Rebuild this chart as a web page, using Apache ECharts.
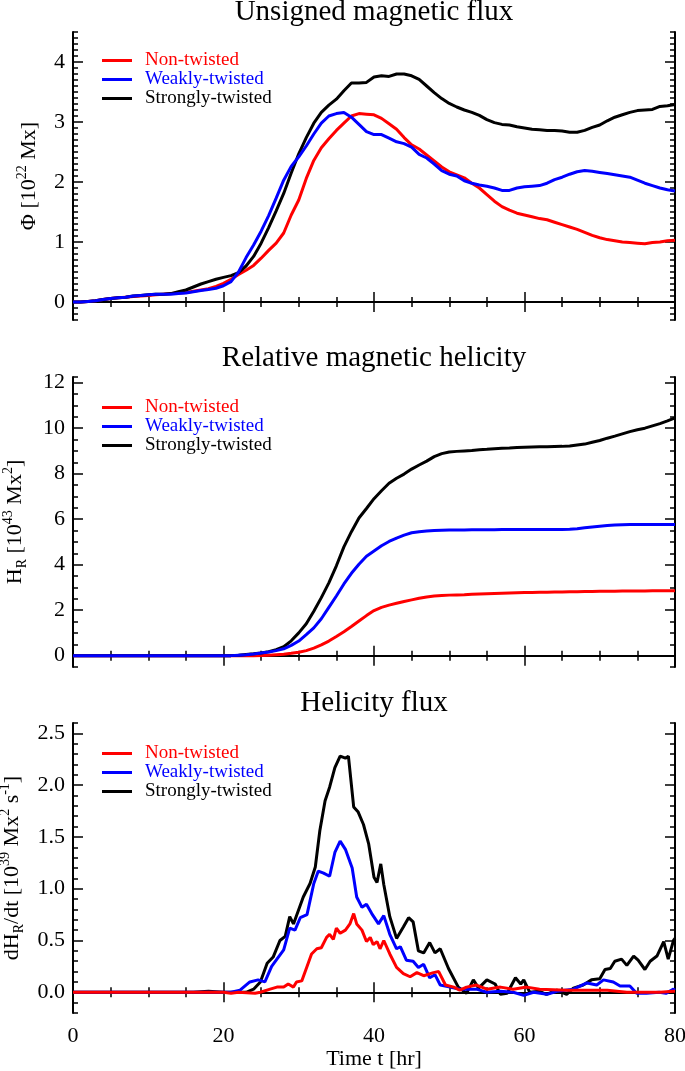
<!DOCTYPE html>
<html>
<head>
<meta charset="utf-8">
<title>Unsigned magnetic flux, relative magnetic helicity and helicity flux</title>
<script src="https://cdn.jsdelivr.net/npm/echarts@6/dist/echarts.min.js"></script>
<style>
  html, body { margin: 0; padding: 0; background: #fff; }
  #chart { width: 685px; height: 1071px; }
</style>
</head>
<body>
<div id="chart"></div>
<script>
// time samples (hours) for the two smooth panels
const hours = Array.from({ length: 81 }, (_, i) => i);

// Unsigned magnetic flux [1e22 Mx]
const fluxNon = [0, 0, 0.01, 0.02, 0.04, 0.06, 0.07, 0.08, 0.09, 0.1,
  0.11, 0.12, 0.13, 0.14, 0.15, 0.16, 0.18, 0.2, 0.22, 0.26,
  0.31, 0.38, 0.46, 0.53, 0.61, 0.73, 0.86, 0.98, 1.15, 1.45,
  1.7, 2.06, 2.36, 2.57, 2.72, 2.86, 2.98, 3.1, 3.14, 3.13,
  3.12, 3.06, 2.97, 2.88, 2.74, 2.62, 2.55, 2.45, 2.35, 2.25,
  2.17, 2.12, 2.07, 1.98, 1.9, 1.79, 1.68, 1.59, 1.53, 1.48,
  1.45, 1.42, 1.39, 1.37, 1.33, 1.29, 1.25, 1.21, 1.16, 1.11,
  1.07, 1.04, 1.02, 1.0, 0.99, 0.98, 0.97, 0.99, 1.0, 1.02, 1.03];
const fluxWeak = [0, 0, 0.01, 0.02, 0.04, 0.06, 0.07, 0.08, 0.1, 0.11,
  0.12, 0.13, 0.13, 0.13, 0.14, 0.15, 0.17, 0.19, 0.21, 0.23,
  0.27, 0.34, 0.5, 0.74, 0.95, 1.18, 1.44, 1.73, 2.03, 2.26,
  2.42, 2.6, 2.8, 2.98, 3.1, 3.14, 3.16, 3.08, 2.96, 2.84,
  2.79, 2.79, 2.73, 2.67, 2.64, 2.58, 2.46, 2.4, 2.3, 2.19,
  2.13, 2.1, 2.02, 1.98, 1.95, 1.93, 1.9, 1.86, 1.86, 1.9,
  1.92, 1.93, 1.94, 1.98, 2.04, 2.08, 2.13, 2.17, 2.19, 2.18,
  2.16, 2.14, 2.12, 2.1, 2.08, 2.03, 1.98, 1.94, 1.9, 1.87, 1.85];
const fluxStrong = [0, 0, 0.01, 0.02, 0.04, 0.06, 0.07, 0.08, 0.1, 0.11,
  0.12, 0.13, 0.13, 0.14, 0.17, 0.2, 0.25, 0.3, 0.34, 0.38,
  0.41, 0.44, 0.49, 0.6, 0.76, 0.98, 1.24, 1.52, 1.81, 2.15,
  2.47, 2.74, 2.98, 3.16, 3.28, 3.38, 3.52, 3.65, 3.65, 3.66,
  3.75, 3.77, 3.76, 3.8, 3.8, 3.77, 3.71, 3.6, 3.49, 3.39,
  3.31, 3.25, 3.2, 3.16, 3.11, 3.04, 2.99, 2.96, 2.95, 2.92,
  2.9, 2.88, 2.87, 2.86, 2.86, 2.85, 2.83, 2.83, 2.86, 2.91,
  2.95, 3.02, 3.08, 3.12, 3.16, 3.19, 3.2, 3.21, 3.26, 3.27, 3.29];

// Relative magnetic helicity [1e43 Mx^2]
const helNon = [0, 0, 0, 0, 0, 0, 0, 0, 0, 0,
  0, 0, 0, 0, 0, 0, 0, 0, 0, 0,
  0, 0, 0, 0, 0, 0.01, 0.02, 0.04, 0.06, 0.1,
  0.15, 0.22, 0.33, 0.47, 0.64, 0.84, 1.05, 1.28, 1.52, 1.76,
  1.98, 2.12, 2.22, 2.3, 2.38, 2.45, 2.52, 2.58, 2.62, 2.64,
  2.66, 2.67, 2.68, 2.7, 2.71, 2.72, 2.73, 2.74, 2.75, 2.76,
  2.77, 2.78, 2.79, 2.79, 2.8, 2.8, 2.81, 2.81, 2.82, 2.82,
  2.83, 2.83, 2.83, 2.84, 2.84, 2.84, 2.84, 2.85, 2.85, 2.85, 2.85];
const helWeak = [0, 0, 0, 0, 0, 0, 0, 0, 0, 0,
  0, 0, 0, 0, 0, 0, 0, 0, 0, 0,
  0, 0, 0.02, 0.04, 0.07, 0.12, 0.16, 0.22, 0.3, 0.45,
  0.64, 0.92, 1.22, 1.62, 2.12, 2.62, 3.15, 3.62, 4.02, 4.37,
  4.6, 4.83, 5.02, 5.17, 5.3, 5.4, 5.45, 5.48, 5.5, 5.51,
  5.52, 5.52, 5.52, 5.53, 5.53, 5.53, 5.53, 5.54, 5.54, 5.54,
  5.54, 5.54, 5.54, 5.54, 5.54, 5.55, 5.56, 5.58, 5.62, 5.66,
  5.69, 5.72, 5.74, 5.75, 5.76, 5.76, 5.76, 5.76, 5.76, 5.76, 5.76];
const helStrong = [0, 0, 0, 0, 0, 0, 0, 0, 0, 0,
  0, 0, 0, 0, 0, 0, 0, 0, 0, 0,
  0, 0, 0.02, 0.05, 0.08, 0.12, 0.17, 0.26, 0.39, 0.65,
  1.0, 1.4, 1.95, 2.55, 3.2, 3.95, 4.78, 5.45, 6.05, 6.47,
  6.9, 7.25, 7.58, 7.8, 7.98, 8.2, 8.38, 8.55, 8.75, 8.88,
  8.95, 8.98, 9.0, 9.02, 9.05, 9.07, 9.1, 9.12, 9.13, 9.15,
  9.16, 9.17, 9.18, 9.18, 9.19, 9.2, 9.22, 9.26, 9.3, 9.38,
  9.46, 9.56, 9.65, 9.75, 9.85, 9.93, 10.0, 10.1, 10.2, 10.32, 10.45];

// Helicity flux [1e39 Mx^2 s^-1], as [hour, value]
const rateNon = [[0, 0], [20, 0], [21, -0.01], [22, 0], [24.2, -0.01], [24.9, 0],
  [26.2, 0.03], [27.1, 0.05], [28, 0.05], [28.6, 0.08], [29.3, 0.05], [29.7, 0.1],
  [30.4, 0.11], [31.1, 0.25], [31.7, 0.37], [32.4, 0.42], [33, 0.43], [33.7, 0.53],
  [34.1, 0.56], [34.6, 0.51], [35, 0.62], [35.5, 0.57], [36.2, 0.6], [36.8, 0.66],
  [37.3, 0.76], [37.7, 0.66], [38.4, 0.6], [39, 0.49], [39.5, 0.53], [39.9, 0.46],
  [40.4, 0.49], [40.8, 0.42], [41.3, 0.5], [42.1, 0.37], [43, 0.24], [43.9, 0.18],
  [44.8, 0.15], [45.7, 0.19], [46.6, 0.16], [47.9, 0.19], [48.6, 0.2], [49.5, 0.07],
  [50.6, 0.05], [51.4, 0.02], [52.3, 0.05], [53.6, 0.07], [55, 0.03], [56.8, 0.05],
  [58.5, 0.03], [60.3, 0.05], [62, 0.03], [65.6, 0.02], [68.3, 0.02], [71, 0.02],
  [73.6, 0], [76.2, 0], [78, 0], [79.8, 0.01], [80, 0.01]];
const rateWeak = [[0, 0], [21, 0], [22.2, 0.02], [23.5, 0.1], [24.6, 0.12], [25.5, 0.1],
  [26.4, 0.25], [27.1, 0.32], [28, 0.41], [28.8, 0.62], [29.5, 0.6], [30.2, 0.72],
  [31.1, 0.75], [32, 1.05], [32.6, 1.17], [33.3, 1.15], [34.1, 1.12], [34.8, 1.35],
  [35.5, 1.46], [36.2, 1.38], [37.1, 1.2], [37.7, 0.92], [38.4, 0.82], [39, 0.85],
  [39.7, 0.76], [40.6, 0.66], [41.3, 0.74], [42.1, 0.56], [43, 0.42], [43.5, 0.44],
  [44.3, 0.31], [45.2, 0.3], [45.9, 0.24], [46.6, 0.27], [47.4, 0.14], [48.1, 0.17],
  [48.8, 0.07], [50.1, 0.05], [51.4, 0.03], [53.6, 0.03], [55, 0], [56.8, 0.01],
  [58.5, 0], [59.9, -0.03], [61.2, 0], [63, -0.02], [64.3, 0.01], [66.5, 0.03],
  [68.3, 0.09], [69.6, 0.07], [70.5, 0.12], [71.8, 0.1], [72.7, 0.06], [74, 0.06],
  [74.9, -0.01], [76.2, -0.01], [77.9, 0], [78.8, -0.01], [79.8, 0.03], [80, 0.02]];
const rateStrong = [[0, 0], [16, 0], [18, 0.01], [20, 0], [23, 0], [24, 0.03],
  [24.9, 0.1], [25.8, 0.28], [26.6, 0.34], [27.5, 0.5], [28.2, 0.54], [28.8, 0.73],
  [29.3, 0.66], [30, 0.8], [30.6, 0.92], [31.5, 1.05], [32.2, 1.21], [32.8, 1.56],
  [33.5, 1.85], [34.1, 1.98], [34.8, 2.17], [35.5, 2.28], [36.2, 2.26], [36.6, 2.28],
  [37.3, 1.79], [37.9, 1.74], [38.6, 1.62], [39.3, 1.43], [40, 1.11], [40.4, 1.06],
  [40.9, 1.24], [41.3, 1.04], [42.1, 0.73], [43, 0.52], [43.9, 0.63], [44.6, 0.72],
  [45.2, 0.68], [45.9, 0.4], [46.6, 0.38], [47.4, 0.48], [48.1, 0.38], [48.8, 0.42],
  [49.9, 0.23], [51.2, 0.05], [52.3, -0.01], [53.2, 0.12], [53.9, 0.04], [55, 0.12],
  [56.1, 0.08], [56.8, -0.02], [57.7, -0.01], [58.8, 0.14], [59.5, 0.08], [59.9, 0.12],
  [60.7, 0], [62, 0.01], [62.9, -0.02], [64.3, 0.02], [65.6, -0.02], [66.5, 0.04],
  [67.8, 0.07], [68.9, 0.12], [70, 0.13], [70.7, 0.22], [71.4, 0.23], [72, 0.3],
  [72.9, 0.32], [73.6, 0.26], [74.5, 0.35], [75.1, 0.31], [76, 0.22], [76.7, 0.3],
  [77.6, 0.35], [78.5, 0.49], [79.1, 0.32], [79.8, 0.5], [80, 0.52]];

// tick labels
const fluxTicks = [0, 1, 2, 3, 4];
const helTicks = [0, 2, 4, 6, 8, 10, 12];
const rateTicks = [0, 0.5, 1.0, 1.5, 2.0, 2.5];

const seriesNames = ['Non-twisted', 'Weakly-twisted', 'Strongly-twisted'];
const seriesColors = ['#ff0000', '#0000ff', '#000000'];

const FONT = 'Liberation Serif';
const BLACK = '#000';

const pair = arr => hours.map((t, i) => [t, arr[i]]);

const nameRich = {
  a: { fontFamily: FONT, fontSize: 22, color: BLACK, lineHeight: 28 },
  sup: { fontFamily: FONT, fontSize: 14, color: BLACK, lineHeight: 14, verticalAlign: 'top' },
  sub: { fontFamily: FONT, fontSize: 14, color: BLACK, lineHeight: 14, verticalAlign: 'bottom' }
};

const panels = [
  {
    title: 'Unsigned magnetic flux', titleY: 12, top: 32, height: 288,
    min: -0.3, max: 4.5, ticks: fluxTicks, minorStep: 0.1, fmt: v => String(v),
    yName: '{a|Φ [10}{sup|22}{a| Mx]}', nameGap: 30, legendTop: 51,
    data: [pair(fluxNon), pair(fluxWeak), pair(fluxStrong)], order: [0, 2, 1]
  },
  {
    title: 'Relative magnetic helicity', titleY: 358, top: 377, height: 290,
    min: -0.5, max: 12.25, ticks: helTicks, minorStep: 0.5, fmt: v => String(v),
    yName: '{a|H}{sub|R}{a| [10}{sup|43}{a| Mx}{sup|2}{a|]}', nameGap: 44, legendTop: 398,
    data: [pair(helNon), pair(helWeak), pair(helStrong)], order: [0, 2, 1]
  },
  {
    title: 'Helicity flux', titleY: 703, top: 723, height: 290,
    min: -0.2, max: 2.6, ticks: rateTicks, minorStep: 0.1, fmt: v => v.toFixed(1),
    yName: '{a|dH}{sub|R}{a|/dt [10}{sup|39}{a| Mx}{sup|2}{a| s}{sup|-1}{a|]}', nameGap: 47, legendTop: 744,
    data: [rateNon, rateWeak, rateStrong], order: [2, 1, 0]
  }
];

const axisLine = { show: true, lineStyle: { color: BLACK, width: 2 } };
const tickLine = { color: BLACK, width: 1.5 };
const labelFont = { fontFamily: FONT, fontSize: 22, color: BLACK };

const grid = [], xAxis = [], yAxis = [], series = [], legend = [], graphic = [];

panels.forEach((p, g) => {
  grid.push({ left: 73, right: 10, top: p.top, height: p.height, containLabel: false, outerBoundsMode: 'none' });

  const last = g === panels.length - 1;
  ['bottom', 'top'].forEach(pos => {
    const main = last && pos === 'bottom';
    xAxis.push({
      gridIndex: g, type: 'value', position: pos, min: 0, max: 80, interval: 20,
      name: main ? 'Time t [hr]' : '', nameLocation: 'middle', nameGap: 33,
      nameTextStyle: labelFont,
      axisLine: axisLine,
      axisTick: { inside: true, length: 10, lineStyle: tickLine },
      minorTick: { show: true, splitNumber: 4, length: 5, lineStyle: tickLine },
      axisLabel: Object.assign({ show: main, margin: 12 }, labelFont),
      splitLine: { show: false }, minorSplitLine: { show: false }
    });
  });

  ['left', 'right'].forEach(pos => {
    yAxis.push({
      gridIndex: g, type: 'value', position: pos, min: p.min, max: p.max,
      name: pos === 'left' ? p.yName : '', nameLocation: 'middle', nameGap: p.nameGap,
      nameRotate: 90, nameTextStyle: { rich: nameRich },
      axisLine: axisLine,
      axisTick: { inside: true, length: 10, lineStyle: tickLine, customValues: p.ticks },
      axisLabel: Object.assign({ show: pos === 'left', margin: 8, customValues: p.ticks, formatter: p.fmt }, labelFont),
      splitLine: { show: false }
    });
    // minor ticks
    yAxis.push({
      gridIndex: g, type: 'value', position: pos, min: p.min, max: p.max, interval: p.minorStep,
      axisLine: { show: false },
      axisTick: { inside: true, length: 5, lineStyle: tickLine },
      axisLabel: { show: false },
      splitLine: { show: false }
    });
  });

  p.order.forEach(k => {
    series.push({
      name: seriesNames[k], type: 'line', xAxisIndex: g * 2, yAxisIndex: g * 4,
      data: p.data[k], showSymbol: false, symbol: 'none', animation: false,
      color: seriesColors[k],
      lineStyle: { color: seriesColors[k], width: 3 }
    });
  });

  legend.push({
    left: 102, top: p.legendTop, orient: 'vertical', itemGap: 0, padding: 0,
    itemWidth: 30, itemHeight: 3, icon: 'rect', selectedMode: false,
    textStyle: { fontFamily: FONT, fontSize: 19, lineHeight: 18, padding: [0, 0, 0, 8] },
    data: seriesNames.map((n, k) => ({ name: n, textStyle: { color: seriesColors[k] } }))
  });

  graphic.push({
    type: 'text', x: 374, y: p.titleY, silent: true,
    style: { text: p.title, fill: BLACK, font: '29px "Liberation Serif"', textAlign: 'center', textVerticalAlign: 'middle' }
  });
});

const chart = echarts.init(document.getElementById('chart'));
chart.setOption({
  backgroundColor: '#fff',
  animation: false,
  grid, xAxis, yAxis, series, legend, graphic
});
</script>
</body>
</html>
